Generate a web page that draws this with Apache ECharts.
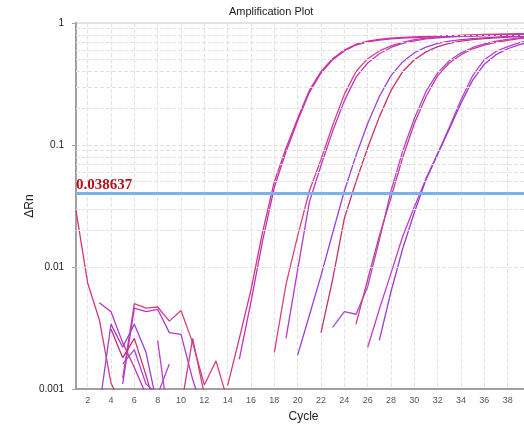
<!DOCTYPE html>
<html>
<head>
<meta charset="utf-8">
<script src="https://cdn.jsdelivr.net/npm/echarts@6/dist/echarts.min.js"></script>
<style>
  html, body { margin: 0; padding: 0; background: #fff; }
  #chart { width: 524px; height: 424px; }
</style>
</head>
<body>
<div id="chart"></div>
<script>
// cycles 1..40, one value per cycle, null = not drawn (negative / no data)
var cycles = [1, 2, 3, 4, 5, 6, 7, 8, 9, 10, 11, 12, 13, 14, 15, 16, 17, 18, 19, 20,
              21, 22, 23, 24, 25, 26, 27, 28, 29, 30, 31, 32, 33, 34, 35, 36, 37, 38, 39, 40];
var xTicks = [2, 4, 6, 8, 10, 12, 14, 16, 18, 20, 22, 24, 26, 28, 30, 32, 34, 36, 38];
var minorGrid = [0.002, 0.003, 0.004, 0.005, 0.006, 0.007, 0.008, 0.009,
                 0.02, 0.03, 0.04, 0.05, 0.06, 0.07, 0.08, 0.09,
                 0.2, 0.3, 0.4, 0.5, 0.6, 0.7, 0.8, 0.9];
var threshold = 0.038637;

var wellA1 = [0.029, 0.0074, 0.0037, 0.00112, 0.0007, null, null, null, null, null,
              null, null, null, 0.00107, 0.0026, 0.0065, 0.0195, 0.050, 0.094, 0.165,
              0.28, 0.40, 0.51, 0.60, 0.67, 0.71, 0.735, 0.75, 0.762, 0.77,
              0.776, 0.781, 0.786, 0.79, 0.794, 0.798, 0.801, 0.804, 0.807, 0.81];
var wellA2 = [null, null, 0.0051, 0.0043, 0.0024, 0.0015, 0.0009, null, null, null,
              null, null, null, null, 0.00176, 0.0052, 0.0165, 0.045, 0.088, 0.158,
              0.27, 0.39, 0.50, 0.59, 0.66, 0.70, 0.725, 0.742, 0.752, 0.76,
              0.766, 0.771, 0.776, 0.78, 0.784, 0.788, 0.791, 0.794, 0.797, 0.80];
var wellB1 = [null, null, null, null, 0.00123, 0.0050, 0.0046, 0.0047, 0.0036, 0.0044,
              0.0024, 0.00108, 0.0017, 0.0008, null, null, null, 0.0020, 0.0072, 0.018,
              0.042, 0.076, 0.145, 0.26, 0.40, 0.51, 0.59, 0.65, 0.695, 0.73,
              0.752, 0.77, 0.783, 0.793, 0.80, 0.806, 0.81, 0.814, 0.817, 0.82];
var wellB2 = [null, null, null, null, 0.0011, 0.0046, 0.0043, 0.0045, 0.0029, 0.0028,
              0.0012, 0.0006, null, null, null, null, null, null, 0.0026, 0.0095,
              0.034, 0.068, 0.13, 0.23, 0.36, 0.47, 0.56, 0.63, 0.68, 0.715,
              0.74, 0.757, 0.768, 0.776, 0.782, 0.787, 0.791, 0.795, 0.798, 0.80];
var wellC1 = [null, null, 0.0007, 0.0034, 0.0022, 0.0034, 0.0020, 0.0007, null, null,
              null, null, null, null, null, null, null, null, null, 0.0019,
              0.0040, 0.0085, 0.019, 0.042, 0.082, 0.15, 0.25, 0.37, 0.48, 0.57,
              0.635, 0.68, 0.71, 0.73, 0.745, 0.755, 0.765, 0.775, 0.783, 0.79];
var wellC2 = [null, null, null, 0.0031, 0.0018, 0.0026, 0.0013, 0.0006, null, null,
              null, null, null, null, null, null, null, null, null, null,
              null, 0.0029, 0.0079, 0.025, 0.05, 0.095, 0.17, 0.28, 0.40, 0.50,
              0.58, 0.64, 0.68, 0.71, 0.73, 0.745, 0.755, 0.765, 0.773, 0.78];
var wellD1 = [null, null, null, null, 0.0016, 0.0021, 0.0011, 0.0009, 0.0016, null,
              null, null, null, null, null, null, null, null, null, null,
              null, null, 0.0032, 0.0043, 0.0041, 0.0069, 0.0166, 0.042, 0.089, 0.165,
              0.275, 0.39, 0.49, 0.57, 0.63, 0.675, 0.71, 0.735, 0.755, 0.77];
var wellD2 = [null, null, null, null, null, null, null, null, null, 0.0007,
              0.0026, 0.0009, null, null, null, null, null, null, null, null,
              null, null, null, null, 0.0034, 0.0079, 0.018, 0.037, 0.079, 0.15,
              0.25, 0.37, 0.47, 0.55, 0.615, 0.66, 0.695, 0.72, 0.745, 0.76];
var wellE1 = [null, null, null, null, null, null, null, 0.0025, 0.0005, null,
              null, null, null, null, null, null, null, null, null, null,
              null, null, null, null, null, 0.0022, 0.0045, 0.0089, 0.0178, 0.031,
              0.053, 0.085, 0.14, 0.235, 0.37, 0.50, 0.585, 0.64, 0.69, 0.72];
var wellE2 = [null, null, null, null, null, null, null, null, null, null,
              null, null, null, null, null, null, null, null, null, null,
              null, null, null, null, null, null, 0.0025, 0.0063, 0.0141, 0.028,
              0.052, 0.084, 0.135, 0.22, 0.34, 0.46, 0.55, 0.615, 0.665, 0.70];

var wells = [
    {name: 'A1', data: wellA1, color: '#d6337f'},
    {name: 'A2', data: wellA2, color: '#c030c0'},
    {name: 'B1', data: wellB1, color: '#d9407a'},
    {name: 'B2', data: wellB2, color: '#b03ad0'},
    {name: 'C1', data: wellC1, color: '#9b40d8'},
    {name: 'C2', data: wellC2, color: '#c83070'},
    {name: 'D1', data: wellD1, color: '#a848d8'},
    {name: 'D2', data: wellD2, color: '#cf3a86'},
    {name: 'E1', data: wellE1, color: '#c43cc4'},
    {name: 'E2', data: wellE2, color: '#9a3ccf'}
];

var chart = echarts.init(document.getElementById('chart'));

var series = [];
// minor log grid lines
series.push({
    type: 'line',
    data: [],
    silent: true,
    z: 1,
    markLine: {
        silent: true,
        symbol: 'none',
        animation: false,
        label: {show: false},
        lineStyle: {color: '#e2e2e2', type: 'dashed', width: 1},
        data: minorGrid.map(function (v) { return {yAxis: v}; })
    }
});
wells.forEach(function (w) {
    series.push({
        name: w.name,
        type: 'line',
        showSymbol: false,
        z: 3,
        animation: false,
        lineStyle: {width: 1.3, color: w.color},
        itemStyle: {color: w.color},
        data: cycles.map(function (c, i) { return [c, w.data[i]]; })
    });
});
// threshold
series.push({
    type: 'line',
    data: [],
    z: 5,
    markLine: {
        silent: true,
        symbol: 'none',
        animation: false,
        lineStyle: {color: '#7fb0ee', type: 'solid', width: 3},
        label: {
            position: 'insideStartTop',
            distance: [0, 1],
            formatter: String(threshold),
            color: '#b3121c',
            fontFamily: 'Liberation Serif',
            fontWeight: 'bold',
            fontSize: 15
        },
        data: [{yAxis: threshold}]
    }
});

var option = {
    backgroundColor: '#fff',
    animation: false,
    title: {
        text: 'Amplification Plot',
        left: 224,
        top: 1,
        textStyle: {
            fontSize: 11,
            fontWeight: 'normal',
            color: '#222',
            fontFamily: 'Liberation Sans'
        }
    },
    grid: {
        left: 76,
        top: 23,
        width: 455,
        bottom: 35,
        outerBoundsMode: 'none',
        containLabel: false,
        show: true,
        borderColor: '#c8c8c8',
        borderWidth: 1
    },
    xAxis: {
        type: 'value',
        min: 1,
        max: 40,
        name: 'Cycle',
        nameLocation: 'middle',
        nameGap: 22,
        nameMoveOverlap: false,
        nameTextStyle: {fontSize: 12, color: '#222', fontFamily: 'Liberation Sans'},
        axisLine: {lineStyle: {color: '#a0a0a0', width: 2}},
        axisTick: {show: false, customValues: xTicks},
        axisLabel: {
            customValues: xTicks,
            fontSize: 9,
            color: '#555',
            margin: 7,
            fontFamily: 'Liberation Sans'
        },
        splitLine: {show: true, lineStyle: {color: '#e2e2e2', type: 'dashed'}}
    },
    yAxis: {
        type: 'log',
        logBase: 10,
        min: 0.001,
        max: 1,
        name: 'ΔRn',
        nameLocation: 'middle',
        nameGap: 40,
        nameMoveOverlap: false,
        nameTextStyle: {fontSize: 12, color: '#222', fontFamily: 'Liberation Sans'},
        axisLine: {show: true, lineStyle: {color: '#a0a0a0', width: 2}},
        axisTick: {show: true, length: 4, lineStyle: {color: '#a0a0a0'}},
        axisLabel: {fontSize: 10, color: '#222', margin: 12, fontFamily: 'Liberation Sans'},
        splitLine: {show: true, lineStyle: {color: '#e2e2e2', type: 'dashed'}}
    },
    series: series
};

chart.setOption(option);
window.addEventListener('resize', function () {
    chart.resize();
});
</script>
</body>
</html>
